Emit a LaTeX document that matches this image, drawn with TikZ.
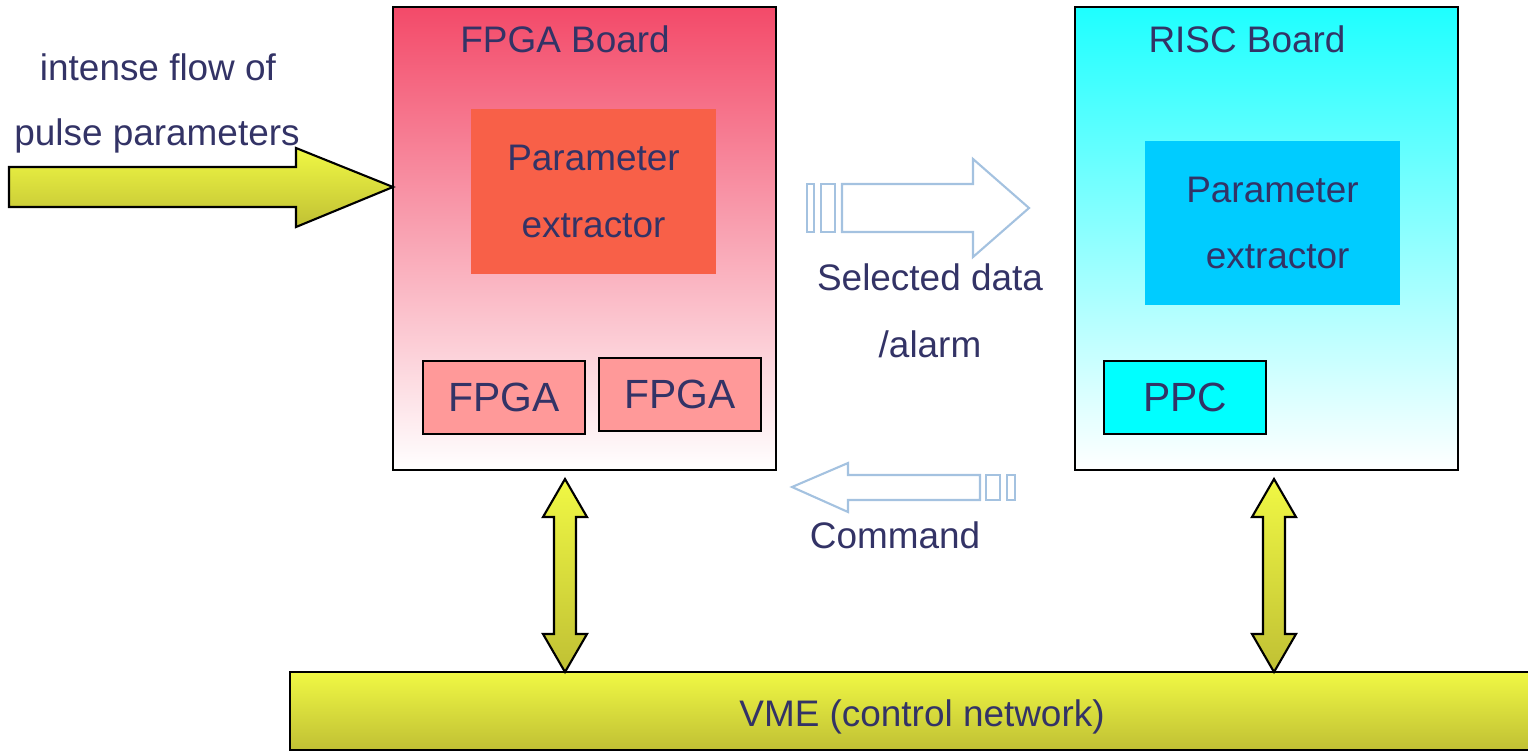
\documentclass[tikz,border=0pt]{standalone}
\usepackage{fontspec}
\setmainfont{Liberation Sans}
\definecolor{textnavy}{RGB}{51,51,102}
\definecolor{fpgared}{RGB}{243,74,105}
\definecolor{extractred}{RGB}{248,96,72}
\definecolor{chipred}{RGB}{255,153,153}
\definecolor{riscaqua}{RGB}{30,255,255}
\definecolor{extractblue}{RGB}{0,204,255}
\definecolor{ppcaqua}{RGB}{0,255,255}
\definecolor{flowblue}{RGB}{164,194,224}
\definecolor{busyellow}{RGB}{240,248,68}
\definecolor{busolive}{RGB}{192,192,52}

\begin{document}
\begin{tikzpicture}[x=0.01cm, y=-0.01cm,
    every node/.style={inner sep=0pt, outer sep=0pt, text=textnavy, font=\fontsize{10.5}{19}\selectfont},
    board/.style={draw=black, line width=0.6pt, anchor=north west, minimum width=3.83cm, minimum height=4.63cm},
    extractor/.style={align=center, minimum width=2.44cm, minimum height=1.64cm},
    chip/.style={draw=black, line width=0.5pt, minimum width=1.62cm, minimum height=0.73cm, font=\fontsize{11.6}{14}\selectfont},
    flowarrow/.style={draw=flowblue, line width=0.6pt, fill=white},
    yellowarrow/.style={draw=black, line width=0.6pt, top color=busyellow, bottom color=busolive}]
    \useasboundingbox (0,0) rectangle (1528,751);

    \node (fpgaboard) at (393,7) [board, top color=fpgared, middle color=fpgared!35!white, bottom color=white] {};
    \node (fpgatitle) at (565,52) [anchor=base] {FPGA Board};
    \node (fpgaextract) at (593.5,191.5) [extractor, fill=extractred] {Parameter\\extractor};
    \node (fpga1) at (504,397.5) [chip, fill=chipred] {FPGA};
    \node (fpga2) at (680,394.5) [chip, fill=chipred] {FPGA};

    \node (riscboard) at (1075,7) [board, top color=riscaqua, middle color=riscaqua!40!white, bottom color=white] {};
    \node (risctitle) at (1247,52) [anchor=base] {RISC Board};
    \node (riscextract) at (1272.5,223) [extractor, fill=extractblue, minimum width=2.55cm] {Parameter\\\ extractor};
    \node (ppc) at (1185,397.5) [chip, fill=ppcaqua] {PPC};

    \node (vme) at (290,672) [anchor=north west, draw=black, line width=0.6pt, top color=busyellow, bottom color=busolive, minimum width=12.6cm, minimum height=0.78cm] {};
    \node (vmetext) at (922,726) [anchor=base] {VME (control network)};

    % pulse parameters coming in
    \node (intense) at (158,80) [anchor=base] {intense flow of};
    \node (pulse) at (157,145) [anchor=base] {pulse parameters};
    \coordinate (flowin) at (393,187);
    \draw[yellowarrow] (flowin) -- ++(-97,-39) -- ++(0,19) -- ++(-287,0) -- ++(0,40) -- ++(287,0) -- ++(0,20) -- cycle;

    \coordinate (seltip) at (1029,208);
    \draw[flowarrow] (seltip) -- ++(-56,-49) -- ++(0,25) -- ++(-131,0) -- ++(0,48) -- ++(131,0) -- ++(0,25) -- cycle;
    \draw[flowarrow] (807,184) rectangle (814,232);
    \draw[flowarrow] (821,184) rectangle (835,232);
    \node (selected) at (930,290) [anchor=base] {Selected data};
    \node (alarm) at (930,357) [anchor=base] {/alarm};

    \coordinate (cmdtip) at (792,487);
    \draw[flowarrow] (cmdtip) -- ++(56,-24) -- ++(0,12) -- ++(132,0) -- ++(0,25) -- ++(-132,0) -- ++(0,12) -- cycle;
    \draw[flowarrow] (986,475) rectangle (1000,500);
    \draw[flowarrow] (1007,475) rectangle (1015,500);
    \node (command) at (895,548) [anchor=base] {Command};

    \coordinate (fpgalink) at (565,479);
    \draw[yellowarrow] (fpgalink) -- ++(22,38) -- ++(-11,0) -- ++(0,117) -- ++(11,0) -- ++(-22,38)
        -- ++(-22,-38) -- ++(11,0) -- ++(0,-117) -- ++(-11,0) -- cycle;

    \coordinate (risclink) at (1274,479);
    \draw[yellowarrow] (risclink) -- ++(22,38) -- ++(-11,0) -- ++(0,117) -- ++(11,0) -- ++(-22,38)
        -- ++(-22,-38) -- ++(11,0) -- ++(0,-117) -- ++(-11,0) -- cycle;
\end{tikzpicture}
\end{document}
